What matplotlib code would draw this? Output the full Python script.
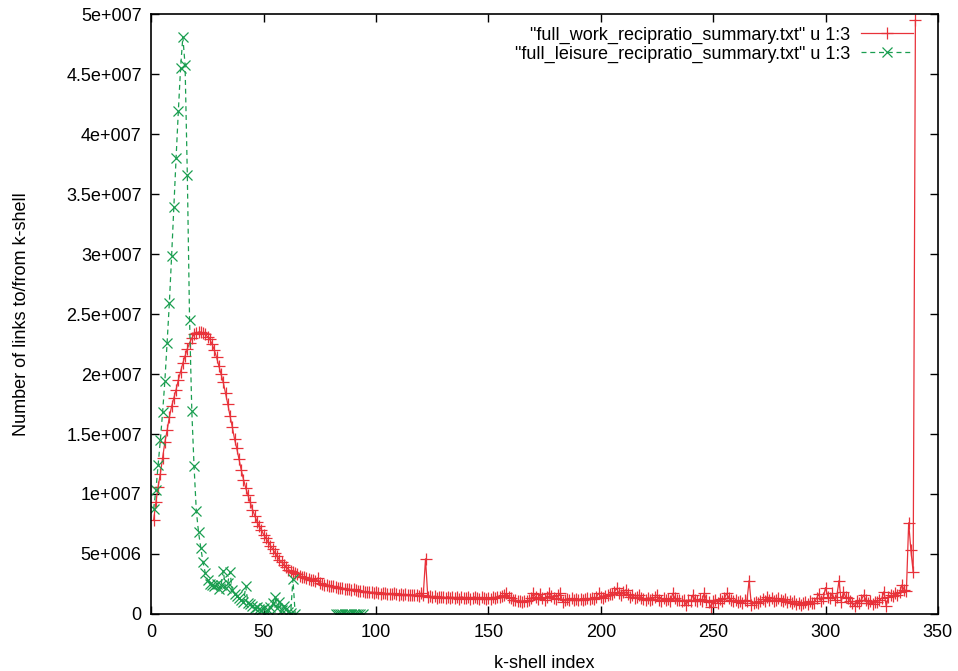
import matplotlib
matplotlib.use("Agg")
import matplotlib.pyplot as plt
from matplotlib.ticker import FuncFormatter
import numpy as np

plt.rcParams['font.family'] = ['Liberation Sans', 'DejaVu Sans']

# work series: k-shell 1..340, values in millions of links
work_k = list(range(1, 341))
work_links_m = [
    7.8, 9.3, 10.6, 11.7, 13.0, 14.3, 15.3, 16.4, 17.3, 18.0,
    18.7, 19.5, 20.2, 20.9, 21.5, 22.1, 22.6, 23.0, 23.3, 23.4,
    23.5, 23.5, 23.4, 23.3, 23.1, 22.9, 22.5, 22.0, 21.4, 20.7,
    20.0, 19.3, 18.4, 17.5, 16.5, 15.6, 14.6, 13.8, 12.9, 12.0,
    11.2, 10.5, 9.9, 9.3, 8.7, 8.2, 7.7, 7.3, 7.0, 6.6,
    6.3, 6.0, 5.7, 5.4, 5.1, 4.8, 4.5, 4.3, 4.1, 3.9,
    3.7, 3.6, 3.5, 3.4, 3.3, 3.2, 3.1, 3.05, 3.0, 2.9,
    2.85, 2.8, 2.75, 3.0, 2.6, 2.5, 2.45, 2.4, 2.35, 2.3,
    2.3, 2.25, 2.2, 2.2, 2.15, 2.1, 2.1, 2.05, 2.0, 2.05,
    2.0, 1.95, 1.9, 1.9, 1.85, 1.85, 1.8, 1.8, 1.75, 1.80,
    1.75, 1.70, 1.78, 1.72, 1.68, 1.70, 1.65, 1.72, 1.66, 1.62,
    1.66, 1.60, 1.64, 1.58, 1.62, 1.55, 1.60, 1.58, 1.52, 1.75,
    1.60, 4.60, 1.45, 1.50, 1.40, 1.48, 1.35, 1.45, 1.38, 1.42,
    1.30, 1.45, 1.35, 1.40, 1.32, 1.38, 1.28, 1.45, 1.35, 1.30,
    1.40, 1.28, 1.35, 1.42, 1.30, 1.25, 1.38, 1.32, 1.28, 1.35,
    1.25, 1.40, 1.30, 1.45, 1.38, 1.50, 1.55, 1.72, 1.45, 1.35,
    1.20, 1.15, 1.10, 1.05, 1.03, 1.10, 1.05, 1.15, 1.30, 1.72,
    1.40, 1.25, 1.67, 1.35, 1.20, 1.45, 1.78, 1.50, 1.35, 1.25,
    1.55, 1.72, 1.03, 1.15, 1.25, 1.20, 1.30, 1.18, 1.25, 1.15,
    1.28, 1.20, 1.25, 1.30, 1.22, 1.35, 1.28, 1.40, 1.72, 1.45,
    1.35, 1.50, 1.55, 1.65, 1.70, 1.80, 2.14, 1.75, 1.60, 1.85,
    2.00, 1.70, 1.45, 1.55, 1.35, 1.40, 1.58, 1.30, 1.25, 1.20,
    1.35, 1.15, 1.28, 1.40, 1.58, 1.20, 1.10, 1.30, 1.15, 1.25,
    1.10, 1.72, 1.30, 1.15, 1.20, 1.05, 1.15, 0.75, 1.20, 1.10,
    1.58, 1.15, 1.05, 1.25, 1.10, 1.72, 1.20, 1.00, 0.58, 1.05,
    1.15, 0.95, 1.25, 1.10, 1.30, 1.72, 1.35, 1.15, 1.05, 1.20,
    1.00, 1.10, 0.95, 1.15, 1.05, 2.78, 0.75, 0.90, 1.00, 0.95,
    1.10, 1.25, 1.05, 1.44, 1.15, 1.30, 1.10, 1.20, 1.30, 1.15,
    1.05, 1.25, 1.00, 1.10, 0.90, 1.05, 0.85, 0.95, 0.75, 0.90,
    1.00, 0.85, 1.05, 0.89, 0.95, 1.30, 1.67, 1.10, 1.35, 2.20,
    1.45, 1.30, 1.72, 1.20, 1.45, 2.78, 1.03, 1.86, 1.40, 1.30,
    1.10, 0.90, 0.67, 1.05, 0.95, 1.20, 1.58, 1.15, 0.95, 1.10,
    0.85, 1.00, 1.03, 1.15, 1.30, 1.86, 0.67, 1.40, 1.55, 1.50,
    1.72, 1.60, 1.80, 2.42, 2.00, 1.95, 7.6, 5.3, 3.5, 49.5,
]

# leisure series: two stretches of k-shells, values in millions
leisure_k_a = list(range(1, 65))
leisure_links_a_m = [
    8.75, 10.3, 12.4, 14.5, 16.8, 19.4, 22.6, 25.9, 29.8, 33.9,
    38.0, 41.9, 45.5, 48.1, 45.75, 36.6, 24.5, 16.9, 12.3, 8.6,
    6.8, 5.5, 4.3, 3.4, 2.8, 2.5, 2.4, 2.3, 2.5, 2.1,
    2.4, 3.6, 2.2, 2.6, 3.5, 2.0, 1.7, 1.5, 1.3, 1.2,
    1.0, 2.3, 0.9, 0.8, 0.7, 0.5, 0.6, 0.4, 0.3, 0.5,
    0.2, 0.3, 0.6, 0.9, 1.4, 0.5, 1.0, 0.3, 0.7, 0.4,
    0.2, 0.1, 2.9, 0.0,
]
leisure_k_b = list(range(82, 95))
leisure_links_b_m = [0.0] * len(leisure_k_b)

x_ticks = [0, 50, 100, 150, 200, 250, 300, 350]
y_ticks_m = [0, 5, 10, 15, 20, 25, 30, 35, 40, 45, 50]

red = '#e8323a'
green = '#1a9e50'


def gp_fmt(v, pos):
    # gnuplot style labels: 5e+006, 1.5e+007 ...
    if v == 0:
        return '0'
    e = int(np.floor(np.log10(abs(v)) + 1e-9))
    m = v / 10 ** e
    return '%se+%03d' % (('%.1f' % m).rstrip('0').rstrip('.'), e)


fig = plt.figure(figsize=(9.58, 6.71), dpi=100)
ax = fig.add_axes([0.158, 0.085, 0.821, 0.894])

ax.plot(work_k, np.array(work_links_m) * 1e6, color=red, lw=0.9,
        marker='+', ms=8, mew=0.9,
        label='"full_work_recipratio_summary.txt" u 1:3')
ax.plot(leisure_k_a, np.array(leisure_links_a_m) * 1e6, color=green, lw=0.9,
        ls=(0, (4, 3)), marker='x', ms=7, mew=0.9,
        label='"full_leisure_recipratio_summary.txt" u 1:3')
ax.plot(leisure_k_b, np.array(leisure_links_b_m) * 1e6, color=green, lw=0.9,
        ls=(0, (4, 3)), marker='x', ms=7, mew=0.9)

ax.set_xlim(0, 350)
ax.set_ylim(0, 5e7)
ax.set_xticks(x_ticks)
ax.set_yticks([v * 1e6 for v in y_ticks_m])
ax.yaxis.set_major_formatter(FuncFormatter(gp_fmt))
ax.tick_params(direction='in', length=6, width=1, top=True, right=True,
               labelsize=13, pad=7)
for s in ax.spines.values():
    s.set_linewidth(1.2)

ax.set_xlabel('k-shell index', fontsize=13, labelpad=10)
ax.set_ylabel('Number of links to/from k-shell', fontsize=13, labelpad=26)

ax.legend(loc='upper right', bbox_to_anchor=(0.985, 1.0), frameon=False,
          markerfirst=False, fontsize=13, handlelength=2.9,
          labelspacing=0.1, borderaxespad=0.3, handletextpad=0.6)

fig.savefig('out.png', dpi=100)
